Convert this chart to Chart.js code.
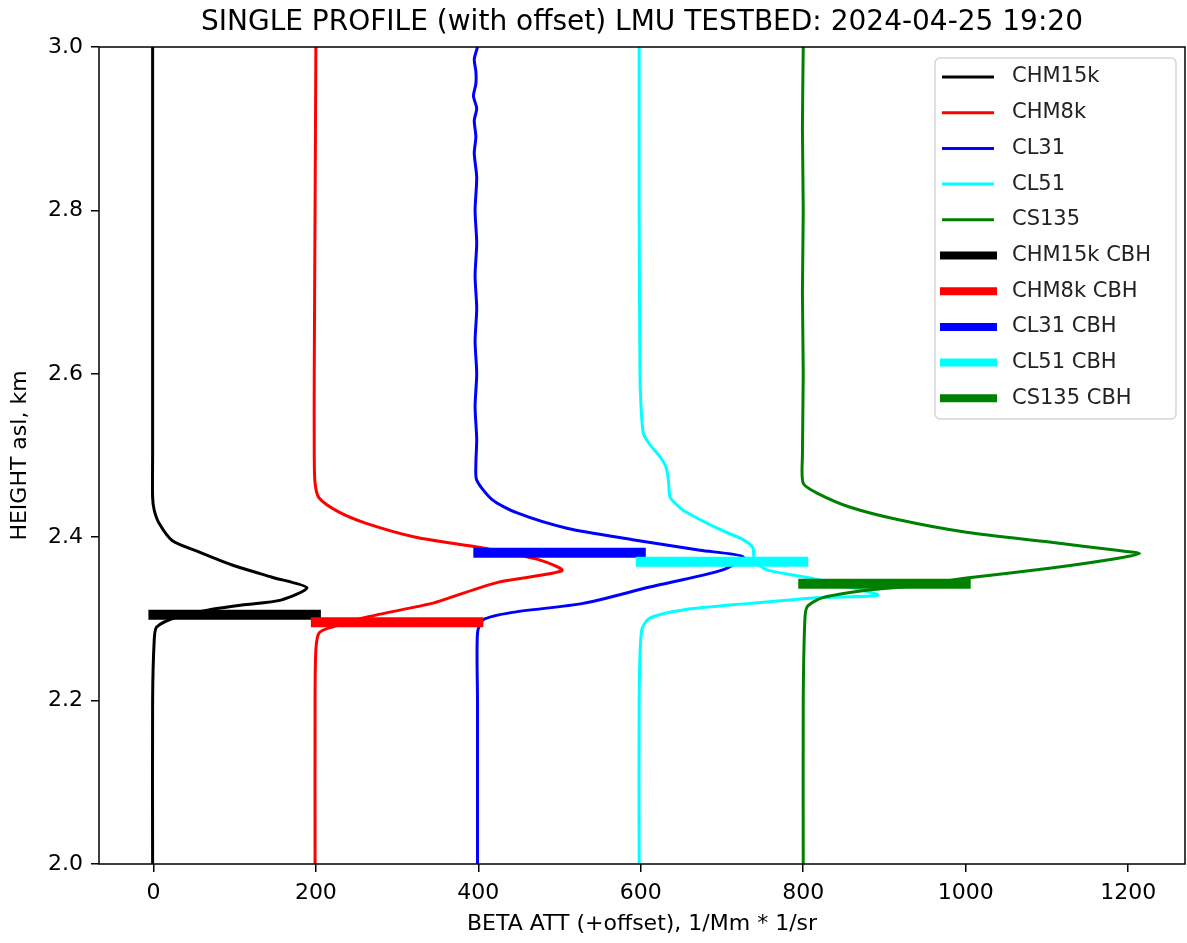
<!DOCTYPE html>
<html>
<head>
<meta charset="utf-8">
<script src="https://cdn.jsdelivr.net/npm/chart.js@4.4.1/dist/chart.umd.min.js"></script>
<style>
    body { margin: 0; background: #fff; }
    #wrap { width: 1187px; height: 943px; }
</style>
</head>
<body>
<div id="wrap"><canvas id="myChart"></canvas></div>
<script>
// profile data, height in km asl and beta att (+offset)
const chm15kHeight = [3.0, 2.8, 2.6, 2.5, 2.449, 2.433, 2.417, 2.396, 2.382, 2.366, 2.351, 2.338, 2.323, 2.317, 2.311, 2.302, 2.290, 2.274, 2.2, 2.0];
const chm15kBeta   = [-1, -1, -1, -1, -1, 1, 7, 23, 56, 97, 146, 189, 157, 109, 68, 28, 4, 1, -1, -1];

const chm8kHeight = [3.0, 2.8, 2.6, 2.5, 2.466, 2.448, 2.431, 2.417, 2.400, 2.387, 2.372, 2.359, 2.345, 2.326, 2.319, 2.302, 2.290, 2.283, 2.262, 2.2, 2.0];
const chm8kBeta   = [200, 199, 198, 198, 199, 204, 228, 262, 323, 404, 476, 503, 425, 365, 343, 262, 220, 204, 200, 199, 199];

const cl31Height = [3.0, 2.985, 2.97, 2.955, 2.94, 2.925, 2.91, 2.89, 2.87, 2.84, 2.80, 2.76, 2.72, 2.68, 2.64, 2.60, 2.56, 2.52, 2.49, 2.47,
    2.446, 2.430, 2.411, 2.397, 2.384, 2.376, 2.360, 2.339, 2.319, 2.308, 2.299, 2.283, 2.2, 2.0];
const cl31Beta = [399, 395, 397, 397, 394, 398, 395, 397, 395, 398, 396, 398, 396, 398, 396, 398, 396, 398, 397, 398,
    417, 447, 509, 590, 673, 726, 701, 611, 529, 442, 406, 399, 399, 399];

const cl51Height = [3.0, 2.8, 2.6, 2.567, 2.528, 2.515, 2.498, 2.486, 2.470, 2.449, 2.441, 2.433, 2.411, 2.397, 2.387, 2.372, 2.360, 2.351, 2.339, 2.329, 2.326, 2.319, 2.311, 2.301, 2.286, 2.2, 2.0];
const cl51Beta   = [598, 598, 599, 600, 603, 610, 624, 631, 634, 636, 643, 652, 694, 726, 738, 740, 755, 804, 857, 892, 817, 734, 652, 611, 601, 598, 598];

const cs135Height = [3.0, 2.9, 2.8, 2.7, 2.6, 2.5, 2.466, 2.454, 2.437, 2.421, 2.406, 2.394, 2.384, 2.380, 2.374, 2.362, 2.350, 2.341, 2.335, 2.326, 2.315, 2.299, 2.2, 2.0];
const cs135Beta   = [800, 799, 800, 799, 800, 799, 800, 817, 857, 919, 1001, 1103, 1186, 1214, 1186, 1103, 1001, 940, 878, 824, 805, 802, 800, 800];

// cloud base heights
const instruments = ['CHM15k', 'CHM8k', 'CL31', 'CL51', 'CS135'];
const colors = ['#000000', '#ff0000', '#0000ff', '#00ffff', '#008000'];
const offsets = [0, 200, 400, 600, 800];
const cbhHeight = [2.305, 2.296, 2.381, 2.370, 2.343];
const cbhLength = 200;

const xTicks = [0, 200, 400, 600, 800, 1000, 1200];
const yTicks = [2.0, 2.2, 2.4, 2.6, 2.8, 3.0];

const titleText = 'SINGLE PROFILE (with offset) LMU TESTBED: 2024-04-25 19:20';

const profiles = [
    [chm15kHeight, chm15kBeta],
    [chm8kHeight, chm8kBeta],
    [cl31Height, cl31Beta],
    [cl51Height, cl51Beta],
    [cs135Height, cs135Beta]
];

Chart.defaults.font.family = "'DejaVu Sans', sans-serif";
Chart.defaults.color = '#000';

const datasets = [];
profiles.forEach((p, i) => {
    datasets.push({
        label: instruments[i],
        data: p[0].map((h, k) => ({ x: p[1][k], y: h })),
        borderColor: colors[i],
        backgroundColor: colors[i],
        borderWidth: 3,
        showLine: true,
        pointRadius: 0,
        tension: 0.25,
        order: 10 - i
    });
});
instruments.forEach((name, i) => {
    datasets.push({
        label: name + ' CBH',
        data: [{ x: offsets[i], y: cbhHeight[i] }, { x: offsets[i] + cbhLength, y: cbhHeight[i] }],
        borderColor: colors[i],
        backgroundColor: colors[i],
        borderWidth: 10,
        borderCapStyle: 'square',
        showLine: true,
        pointRadius: 0,
        order: 4 - i
    });
});

// title over the axes, frame and matplotlib style legend
const framePlugin = {
    id: 'frame',
    afterDraw(chart) {
        const { ctx, chartArea: a } = chart;
        ctx.save();
        ctx.fillStyle = '#000';
        ctx.font = "28px 'DejaVu Sans'";
        ctx.textAlign = 'center';
        ctx.textBaseline = 'middle';
        ctx.fillText(titleText, (a.left + a.right) / 2, 23);

        ctx.strokeStyle = '#000';
        ctx.lineWidth = 1.5;
        ctx.strokeRect(a.left, a.top, a.right - a.left, a.bottom - a.top);

        // legend box
        const w = 241, h = 361;
        const bx = a.right - 9 - w, by = a.top + 11;
        ctx.beginPath();
        ctx.roundRect(bx, by, w, h, 5);
        ctx.fillStyle = 'rgba(255,255,255,0.8)';
        ctx.fill();
        ctx.strokeStyle = '#d6d6d6';
        ctx.lineWidth = 1.5;
        ctx.stroke();

        ctx.font = "21px 'DejaVu Sans'";
        ctx.textAlign = 'left';
        chart.data.datasets.forEach((ds, i) => {
            const cy = by + 19 + i * 35.7;
            const thick = ds.borderWidth > 5;
            ctx.beginPath();
            ctx.strokeStyle = ds.borderColor;
            ctx.lineWidth = thick ? 8 : 3;
            ctx.lineCap = 'butt';
            ctx.moveTo(bx + (thick ? 5 : 7), cy);
            ctx.lineTo(bx + (thick ? 62 : 59), cy);
            ctx.stroke();
            ctx.fillStyle = '#222';
            ctx.fillText(ds.label, bx + 77, cy);
        });
        ctx.restore();
    }
};

const ctx = document.getElementById('myChart').getContext('2d');
const myChart = new Chart(ctx, {
    type: 'scatter',
    data: { datasets: datasets },
    options: {
        responsive: true,
        maintainAspectRatio: false,
        animation: false,
        layout: { padding: { left: 0, right: 2, top: 47, bottom: 0 } },
        plugins: {
            legend: { display: false },
            tooltip: { enabled: false },
            title: { display: false }
        },
        scales: {
            x: {
                type: 'linear',
                min: -67,
                max: 1270,
                afterBuildTicks: s => { s.ticks = xTicks.map(v => ({ value: v })); },
                afterFit: s => { s.height = 79; },
                ticks: { font: { size: 22 }, color: '#000', padding: 8, maxRotation: 0, callback: v => String(v) },
                grid: { drawOnChartArea: false, drawTicks: true, tickLength: 8, color: '#000', lineWidth: 1.5 },
                border: { display: false },
                title: {
                    display: true,
                    text: 'BETA ATT (+offset), 1/Mm * 1/sr',
                    font: { size: 22 },
                    color: '#000',
                    padding: { top: 0, bottom: 6 }
                }
            },
            y: {
                type: 'linear',
                min: 2.0,
                max: 3.0,
                afterBuildTicks: s => { s.ticks = yTicks.map(v => ({ value: v })); },
                afterFit: s => { s.width = 99; },
                ticks: { font: { size: 22 }, color: '#000', padding: 8, callback: v => v.toFixed(1) },
                grid: { drawOnChartArea: false, drawTicks: true, tickLength: 8, color: '#000', lineWidth: 1.5 },
                border: { display: false },
                title: {
                    display: true,
                    text: 'HEIGHT asl, km',
                    font: { size: 22 },
                    color: '#000',
                    padding: { top: 7, bottom: 0 }
                }
            }
        }
    },
    plugins: [framePlugin]
});
</script>
</body>
</html>
